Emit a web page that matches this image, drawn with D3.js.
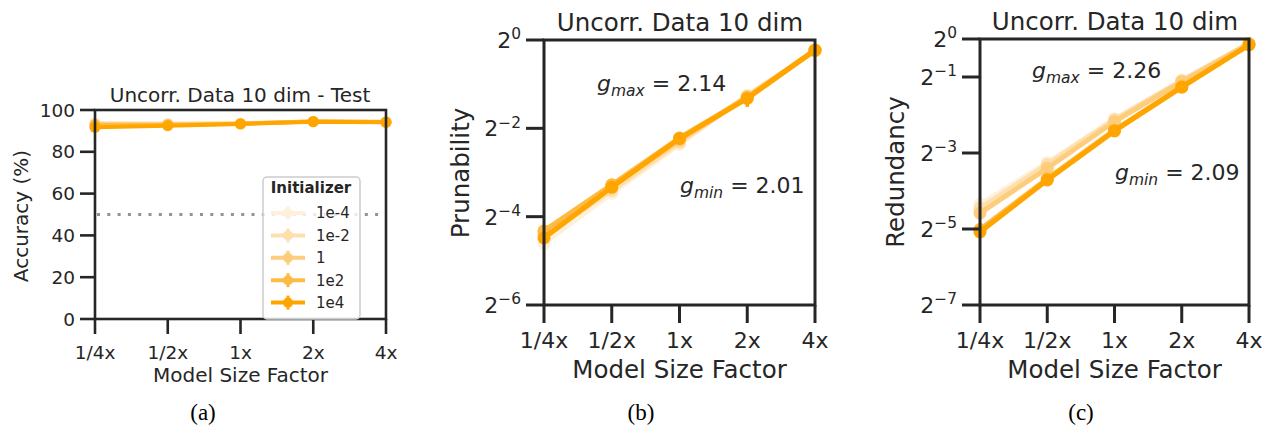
<!DOCTYPE html>
<html><head><meta charset="utf-8">
<script src="https://cdn.jsdelivr.net/npm/d3@7"></script>
<style>
body{margin:0;background:#fff;}
svg text{font-family:"DejaVu Sans",sans-serif;fill:#262626;}
</style></head>
<body><svg id="c" width="1266" height="431"></svg>
<script>
// ---------- data ----------
const sizes = ["1/4x","1/2x","1x","2x","4x"];
const initializers = ["1e-4","1e-2","1","1e2","1e4"];
const colors = ["#fef1dc","#fedfae","#fecd7c","#ffba45","#ffa500"];

// (a) test accuracy (%)
const accA = [
  [93.8, 93.6, 93.8, 94.2, 94.3],
  [93.5, 93.4, 93.6, 94.5, 94.4],
  [93.2, 93.2, 93.5, 94.6, 94.2],
  [92.8, 92.8, 93.4, 94.5, 94.2],
  [91.7, 92.5, 93.3, 94.4, 94.1]
];
const chanceLevel = 50;
const accTicks = [0,20,40,60,80,100];

// (b) prunability
const prunB = [
  [0.041, 0.090, 0.194, 0.420, 0.840],
  [0.047, 0.094, 0.200, 0.415, 0.845],
  [0.049, 0.101, 0.207, 0.410, 0.850],
  [0.050, 0.103, 0.215, 0.405, 0.855],
  [0.0448, 0.099, 0.213, 0.400, 0.853]
];
const prunErrLo = [null, null, null, 0.350, null];
const prunErrHi = [null, null, null, 0.420, null];
const prunTicks = [0,-2,-4,-6];
const gB = ["2.14","2.01"];

// (c) redundancy
const redC = [
  [0.049, 0.105, 0.233, 0.473, 0.925],
  [0.0458, 0.1015, 0.230, 0.467, 0.920],
  [0.0418, 0.0947, 0.222, 0.460, 0.920],
  [0.031, 0.078, 0.190, 0.420, 0.900],
  [0.0296, 0.0764, 0.187, 0.415, 0.900]
];
const redTicks = [0,-1,-3,-5,-7];
const gC = ["2.26","2.09"];

const titles = ["Uncorr. Data 10 dim - Test","Uncorr. Data 10 dim","Uncorr. Data 10 dim"];
const captions = ["(a)","(b)","(c)"];

// ---------- drawing ----------
const svg = d3.select("#c");
const ink = "#262626";

function panel(o){
  const g = svg.append("g");
  const x = d3.scalePoint().domain(sizes).range([o.x0,o.x1]);
  const y = o.log ? d3.scaleLog().base(2).domain([Math.pow(2,o.ymin),1]).range([o.y1,o.y0])
                  : d3.scaleLinear().domain([0,100]).range([o.y1,o.y0]);
  // chance line
  if(o.chance!==undefined){
    g.append("line").attr("x1",o.x0+2).attr("x2",o.x1)
      .attr("y1",y(o.chance)).attr("y2",y(o.chance))
      .attr("stroke","#939393").attr("stroke-width",3).attr("stroke-dasharray","3,7.3");
  }
  // series
  const line = d3.line().x((d,i)=>x(sizes[i])).y(d=>y(d));
  o.data.forEach((s,k)=>{
    g.append("path").attr("d",line(s)).attr("fill","none")
      .attr("stroke",colors[k]).attr("stroke-width",o.lw).attr("stroke-linejoin","round");
    g.selectAll(null).data(s).enter().append("circle")
      .attr("cx",(d,i)=>x(sizes[i])).attr("cy",d=>y(d)).attr("r",o.r).attr("fill",colors[k]);
  });
  if(o.errLo){
    o.errLo.forEach((lo,i)=>{
      if(lo===null) return;
      g.append("line").attr("x1",x(sizes[i])).attr("x2",x(sizes[i]))
        .attr("y1",y(lo)).attr("y2",y(o.errHi[i])).attr("stroke",colors[4]).attr("stroke-width",3.5);
    });
  }
  // frame
  g.append("rect").attr("x",o.x0).attr("y",o.y0).attr("width",o.x1-o.x0).attr("height",o.y1-o.y0)
    .attr("fill","none").attr("stroke",ink).attr("stroke-width",o.sw);
  // y ticks
  const tl = o.tl;
  o.yticks.forEach(t=>{
    const v = o.log ? Math.pow(2,t) : t;
    g.append("line").attr("x1",o.x0-tl).attr("x2",o.x0).attr("y1",y(v)).attr("y2",y(v))
      .attr("stroke",ink).attr("stroke-width",o.sw);
    const tx = g.append("text").attr("x",o.x0-tl-5).attr("y",y(v)).attr("dy","0.36em")
      .attr("text-anchor","end").style("font-size",o.tf+"px");
    if(o.log){
      tx.append("tspan").text("2");
      tx.append("tspan").attr("dy","-0.55em").style("font-size",(o.tf*0.7)+"px")
        .text(t===0?"0":"\u2212"+(-t));
    } else tx.text(t);
  });
  // x ticks
  sizes.forEach(s=>{
    g.append("line").attr("x1",x(s)).attr("x2",x(s)).attr("y1",o.y1).attr("y2",o.y1+tl)
      .attr("stroke",ink).attr("stroke-width",o.sw);
    g.append("text").attr("x",x(s)).attr("y",o.xty).attr("dy","0.36em").attr("text-anchor","middle")
      .style("font-size",o.tf+"px").text(s);
  });
  // labels
  g.append("text").attr("x",(o.x0+o.x1)/2+o.xlOff).attr("y",o.xly).attr("dy","0.36em")
    .attr("text-anchor","middle").style("font-size",o.lf+"px").text("Model Size Factor");
  g.append("text").attr("transform",`translate(${o.ylx},${o.yly}) rotate(-90)`).attr("dy","0.36em")
    .attr("text-anchor","middle").style("font-size",o.lf+"px").text(o.ylabel);
  g.append("text").attr("x",o.tx).attr("y",o.ty).attr("dy","0.36em").attr("text-anchor","middle")
    .style("font-size",o.lf+"px").text(o.title);
  g.append("text").attr("x",o.capx).attr("y",412).attr("dy","0.36em").attr("text-anchor","middle")
    .style("font-family","'Liberation Serif',serif").style("font-size","23px").style("fill","#000").text(o.caption);
  // growth annotations
  if(o.gvals){
    [["max",o.gmax],["min",o.gmin]].forEach((p,i)=>{
      const t = g.append("text").attr("x",p[1][0]).attr("y",p[1][1]).style("font-size","22px");
      t.append("tspan").style("font-style","italic").text("g");
      t.append("tspan").style("font-style","italic").style("font-size","15.5px").attr("dy","5").text(p[0]);
      t.append("tspan").attr("dy","-5").text(" = "+o.gvals[i]);
    });
  }
  return {g,x,y};
}

const A = panel({x0:95,x1:386,y0:110,y1:319,data:accA,log:false,yticks:accTicks,chance:chanceLevel,
  lw:4,r:5.5,sw:2.6,tl:15,tf:18.5,lf:20,xty:352,xly:375,xlOff:0,ylx:21,yly:216,ylabel:"Accuracy (%)",
  tx:240,ty:95,title:titles[0],capx:203,caption:captions[0]});
const B = panel({x0:544,x1:815,y0:40,y1:305,data:prunB,log:true,ymin:-6,yticks:prunTicks,
  errLo:prunErrLo,errHi:prunErrHi,
  lw:5,r:6.5,sw:3,tl:18,tf:22,lf:24.5,xty:340,xly:369,xlOff:0,ylx:460,yly:173,ylabel:"Prunability",
  tx:680,ty:22,title:titles[1],capx:641,caption:captions[1],
  gvals:gB,gmax:[597,91],gmin:[680,193]});
const C = panel({x0:980,x1:1249,y0:39,y1:305,data:redC,log:true,ymin:-7,yticks:redTicks,
  lw:5,r:6.5,sw:3,tl:18,tf:22,lf:24.5,xty:340,xly:369,xlOff:0,ylx:895,yly:172,ylabel:"Redundancy",
  tx:1115,ty:21,title:titles[2],capx:1081,caption:captions[2],
  gvals:gC,gmax:[1032,78],gmin:[1115,180]});

// legend in panel (a)
const lg = svg.append("g");
lg.append("rect").attr("x",263).attr("y",177).attr("width",97).attr("height",142).attr("rx",4)
  .attr("fill","#fff").attr("fill-opacity",0.8).attr("stroke","#cccccc").attr("stroke-width",1.5);
lg.append("text").attr("x",311).attr("y",188).attr("dy","0.36em").attr("text-anchor","middle")
  .style("font-size","15px").style("font-weight","bold").text("Initializer");
initializers.forEach((name,k)=>{
  const yy = 213 + k*22.4;
  lg.append("line").attr("x1",271).attr("x2",305).attr("y1",yy).attr("y2",yy)
    .attr("stroke",colors[k]).attr("stroke-width",4);
  lg.append("line").attr("x1",288).attr("x2",288).attr("y1",yy-7).attr("y2",yy+7)
    .attr("stroke",colors[k]).attr("stroke-width",3);
  lg.append("circle").attr("cx",288).attr("cy",yy).attr("r",5).attr("fill",colors[k]);
  lg.append("text").attr("x",316).attr("y",yy).attr("dy","0.36em").style("font-size","15px").text(name);
});
</script></body></html>
